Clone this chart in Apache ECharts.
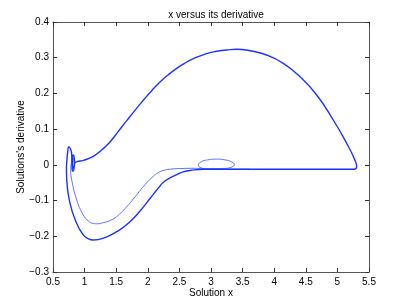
<!DOCTYPE html>
<html><head><meta charset="utf-8">
<script src="https://cdn.jsdelivr.net/npm/echarts@6/dist/echarts.min.js"></script>
<style>html,body{margin:0;padding:0;background:#fff}#c{width:407px;height:306px}</style>
</head><body><div id="c"></div>
<script>
// Limit cycle (thick, repeated passes): x, x'
const cycleX = [0.84,0.88,0.98,1.138,1.270,1.402,1.534,1.666,1.797,1.929,2.061,2.193,2.325,2.457,2.589,2.720,2.852,2.984,3.116,3.248,3.40,3.617,3.881,4.144,4.408,4.672,4.935,5.147,5.278,5.305,5.252,5.15,4.8,4.4,4.0,3.6,3.2,2.873,2.668,2.557,2.457,2.272,2.161,2.035,1.877,1.687,1.508,1.323,1.138,1.05,0.979,0.875,0.769,0.717,0.713,0.72,0.735,0.75,0.775,0.795,0.80,0.805,0.815,0.83,0.84,0.835,0.82,0.808,0.81,0.82,0.835,0.84];
const cycleY = [0.004,0.009,0.0126,0.0238,0.0416,0.064,0.0938,0.1237,0.1527,0.1807,0.2077,0.232,0.2525,0.2703,0.2852,0.2973,0.3067,0.3141,0.3188,0.3216,0.3238,0.3196,0.3076,0.2843,0.2468,0.1956,0.1256,0.0603,0.0132,-0.005,-0.0125,-0.0125,-0.0125,-0.0125,-0.0125,-0.0125,-0.0125,-0.0125,-0.0158,-0.0195,-0.0271,-0.0453,-0.0663,-0.0943,-0.1293,-0.1643,-0.1872,-0.2035,-0.2105,-0.206,-0.196,-0.164,-0.108,-0.042,-0.010,0.013,0.040,0.051,0.045,0.032,0.000,-0.015,-0.018,-0.012,0.005,0.022,0.028,0.018,0.000,-0.008,-0.004,0.004];
// Transient (thin, single pass) with small loop near x = 3
const transX = [3.60,3.20,2.95,2.84,2.80,2.84,2.95,3.09,3.22,3.33,3.37,3.33,3.20,3.00,2.80,2.699,2.541,2.383,2.256,2.161,2.082,1.987,1.892,1.797,1.655,1.508,1.40,1.296,1.20,1.138,1.06,0.979,0.875,0.796,0.78,0.795,0.81,0.825,0.84];
const transY = [-0.012,-0.012,-0.012,-0.008,-0.001,0.008,0.014,0.016,0.014,0.008,0.001,-0.006,-0.010,-0.0105,-0.010,-0.0097,-0.0102,-0.0116,-0.0153,-0.0223,-0.0327,-0.0495,-0.069,-0.090,-0.1195,-0.145,-0.156,-0.162,-0.165,-0.164,-0.157,-0.140,-0.098,-0.042,-0.015,0.010,0.020,0.015,0.005];
const xTicks = [0.5,1,1.5,2,2.5,3,3.5,4,4.5,5,5.5];
const yTicks = [-0.3,-0.2,-0.1,0,0.1,0.2,0.3,0.4];

const pairs = (xs, ys) => xs.map((x, i) => [x, ys[i]]);
const fmt = v => String(+(+v).toFixed(2)).replace('-', '\u2212');
const FONT = 'Liberation Sans';
const axisColor = '#555';
function xA(pos, show) {
  return { type:'value', position:pos, min:xTicks[0], max:xTicks[xTicks.length-1], interval:0.5,
    axisLine:{show:true,onZero:false,lineStyle:{color:axisColor,width:1}},
    axisTick:{show:true,inside:true,length:4,lineStyle:{color:'#333'}},
    splitLine:{show:false},
    axisLabel:{show:show,formatter:fmt,color:'#000',fontSize:10,fontFamily:FONT,margin:5},
    name: show ? 'Solution x' : '', nameLocation:'middle', nameGap:16, nameMoveOverlap:false,
    nameTextStyle:{color:'#000',fontSize:10,fontFamily:FONT} };
}
function yA(pos, show) {
  return { type:'value', position:pos, min:yTicks[0], max:yTicks[yTicks.length-1], interval:0.1,
    axisLine:{show:true,onZero:false,lineStyle:{color:axisColor,width:1}},
    axisTick:{show:true,inside:true,length:4,lineStyle:{color:'#333'}},
    splitLine:{show:false},
    axisLabel:{show:show,formatter:fmt,color:'#000',fontSize:10,fontFamily:FONT,margin:4},
    name: show ? "Solutions's derivative" : '', nameLocation:'middle', nameGap:27, nameRotate:90,
    nameMoveOverlap:false,
    nameTextStyle:{color:'#000',fontSize:10,fontFamily:FONT} };
}
const chart = echarts.init(document.getElementById('c'), null, {renderer:'canvas'});
chart.setOption({
  animation:false,
  backgroundColor:'#fff',
  title:{text:'x versus its derivative', left:211, top:5, textAlign:'center',
    textStyle:{fontSize:10,fontWeight:'normal',color:'#000',fontFamily:FONT}},
  grid:{left:53, right:38, top:22, bottom:34},
  xAxis:[xA('bottom', true), xA('top', false)],
  yAxis:[yA('left', true), yA('right', false)],
  series:[
    {type:'line', data:pairs(transX, transY), showSymbol:false, smooth:0.5, smoothConstraint:false,
      lineStyle:{color:'#3a4fff', width:0.8}},
    {type:'line', data:pairs(cycleX, cycleY), showSymbol:false, smooth:0.5, smoothConstraint:false,
      lineStyle:{color:'#1a33ff', width:1.4}}
  ]
});
</script></body></html>
